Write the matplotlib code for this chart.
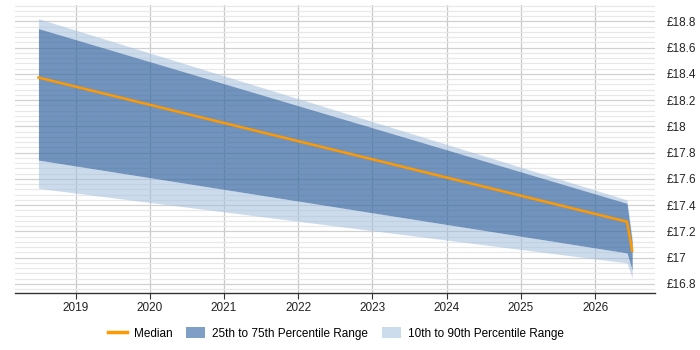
import matplotlib
matplotlib.use("Agg")
import matplotlib.pyplot as plt
from matplotlib.ticker import MultipleLocator, FuncFormatter
from matplotlib.lines import Line2D
from matplotlib.patches import Patch

plt.rcParams['font.family'] = ['Liberation Sans', 'DejaVu Sans']

years = [2018.5, 2026.43, 2026.5]
median = [18.372, 17.274, 17.053]
p25 = [17.743, 17.036, 16.905]
p75 = [18.745, 17.414, 17.12]
p10 = [17.528, 16.960, 16.846]
p90 = [18.820, 17.440, 17.15]
xticks = [2019, 2020, 2021, 2022, 2023, 2024, 2025, 2026]

fig = plt.figure(figsize=(7, 3.5), dpi=100)
ax = fig.add_axes([0.021, 0.164, 0.915, 0.822])

light = '#a3bfdd'
dark = '#3f6ea6'
ax.fill_between(years, p10, p25, color=light, alpha=0.55, lw=0, zorder=2)
ax.fill_between(years, p75, p90, color=light, alpha=0.55, lw=0, zorder=2)
ax.fill_between(years, p25, p75, color=dark, alpha=0.74, lw=0, zorder=3)
ax.plot(years, median, color='#ff9900', lw=1.8, zorder=4)

ax.set_xlim(2018.18, 2026.81)
ax.set_ylim(16.734, 18.925)
ax.set_xticks(xticks)
ax.set_xticklabels([str(y) for y in xticks])
ax.yaxis.set_major_locator(MultipleLocator(0.2))
ax.yaxis.set_minor_locator(MultipleLocator(0.04))

def fmt(v, pos):
    s = f"{v:.1f}"
    if s.endswith('.0'):
        s = s[:-2]
    return '£' + s

ax.yaxis.set_major_formatter(FuncFormatter(fmt))
ax.yaxis.tick_right()
ax.tick_params(axis='y', which='both', length=0, labelsize=8.5, colors='#222222', pad=8)
ax.tick_params(axis='x', which='major', length=4, labelsize=8.5, colors='#222222', pad=3, color='#333333')

ax.grid(axis='y', which='major', color='#d0d0d0', lw=0.9, zorder=0)
ax.grid(axis='y', which='minor', color='#e8e8e8', lw=0.9, zorder=0)
ax.grid(axis='x', which='major', color='#c8c8c8', lw=0.9, zorder=0)
ax.set_axisbelow(True)

for s in ['top', 'right', 'left']:
    ax.spines[s].set_visible(False)
ax.spines['bottom'].set_color('#333333')
ax.spines['bottom'].set_linewidth(1.0)

handles = [
    Line2D([0], [0], color='#ff9900', lw=2.5),
    Patch(facecolor='#7f9fc6', edgecolor='none'),
    Patch(facecolor='#ccdcec', edgecolor='none'),
]
labels = ['Median', '25th to 75th Percentile Range', '10th to 90th Percentile Range']
fig.legend(handles, labels, loc='center', bbox_to_anchor=(0.48, 0.047), ncol=3,
           frameon=False, fontsize=8.5, handlelength=1.6, handleheight=1.0,
           columnspacing=1.2, handletextpad=0.6)

fig.savefig('out.png', dpi=100)
